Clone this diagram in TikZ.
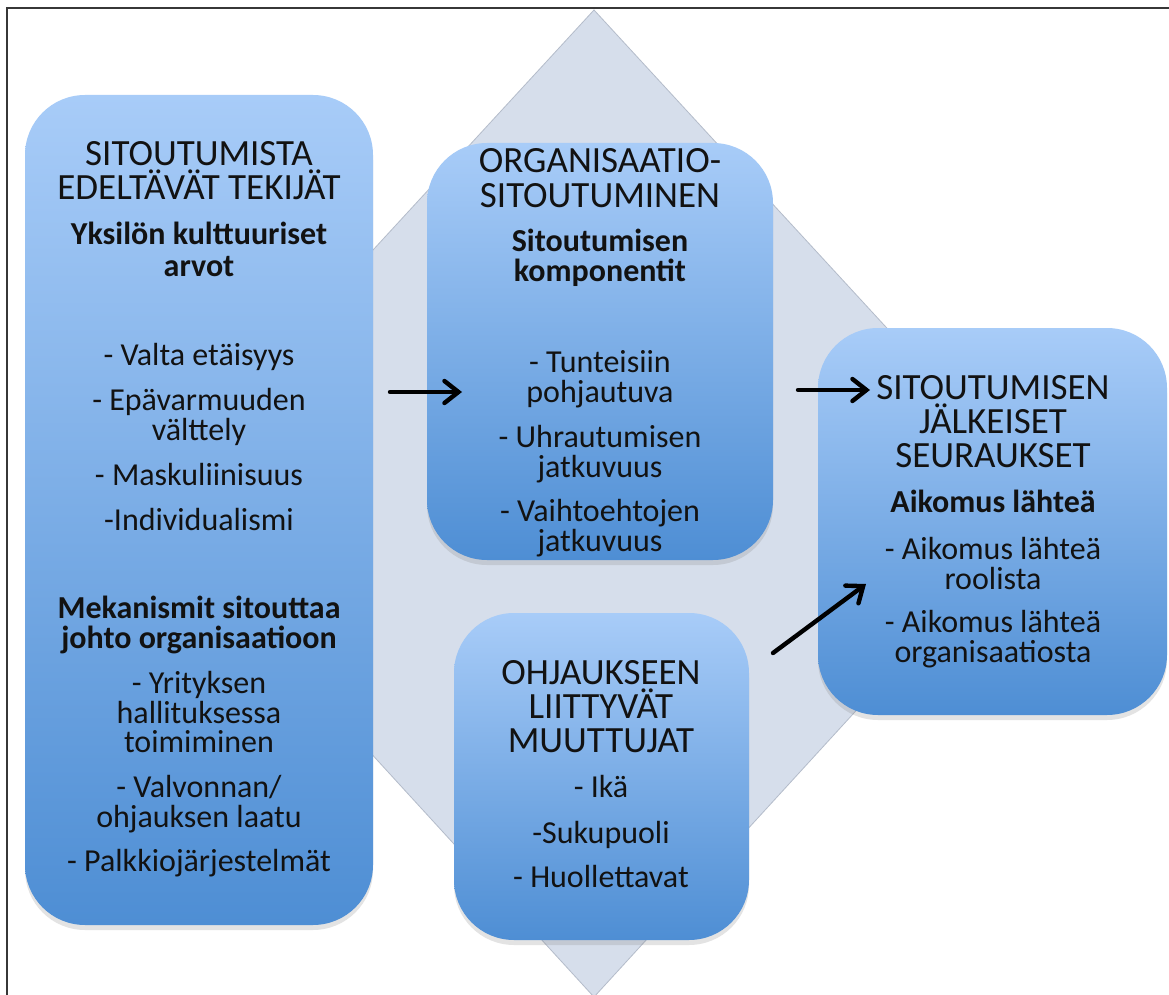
\documentclass[tikz,border=0pt]{standalone}
\usepackage{fontspec}
\setmainfont{Carlito}
\usetikzlibrary{arrows.meta,shadows}
\definecolor{dia}{RGB}{214,222,235}
\definecolor{diaedge}{RGB}{180,188,202}
\definecolor{btop}{RGB}{168,204,248}
\definecolor{bbot}{RGB}{78,142,212}
\definecolor{framec}{RGB}{55,55,55}
\definecolor{txt}{RGB}{18,18,18}
\begin{document}
\begin{tikzpicture}[x=0.5pt,y=-0.5pt,
 box/.style={rectangle, rounded corners=30pt, top color=btop, bottom color=bbot, draw=none,
   drop shadow={opacity=0.22, shadow xshift=0pt, shadow yshift=-2.5pt}, inner sep=0pt},
 ttl/.style={anchor=base, font=\fontsize{18.5}{18.5}\selectfont, text=txt, inner sep=0pt},
 bld/.style={anchor=base, font=\fontsize{16}{16}\selectfont\bfseries, text=txt, inner sep=0pt},
 itm/.style={anchor=base, font=\fontsize{16}{16}\selectfont, text=txt, inner sep=0pt},
 arr/.style={line width=2.2pt, line cap=round, -{Straight Barb[length=7pt,width=11pt,line cap=round]}}
]
\useasboundingbox (0,0) rectangle (1169,995);
\fill[white] (0,0) rectangle (1169,995);
% frame
\draw[framec, line width=1pt] (7,995) -- (7,8) -- (1169,8);
% diamond
\path[fill=dia, draw=diaedge, line width=0.4pt] (594,10) -- (1047,502) -- (594,997) -- (141,502) -- cycle;

% boxes
\node[box, minimum width=174pt, minimum height=415pt] (b1) at (199,510) {};
\node[box, minimum width=173pt, minimum height=208.5pt] (b2) at (600,351.5) {};
\node[box, minimum width=174.5pt, minimum height=193.5pt] (b3) at (992.5,521.5) {};
\node[box, minimum width=147.5pt, minimum height=163.5pt] (b4) at (601.5,776.5) {};

% box 1 text
\node[ttl] (t1a) at (199,166) {SITOUTUMISTA};
\node[ttl] (t1b) at (199,200) {EDELTÄVÄT TEKIJÄT};
\node[bld] (t1c) at (199,245) {Yksilön kulttuuriset};
\node[bld] (t1d) at (199,277) {arvot};
\node[itm] (t1e) at (199,365) {- Valta etäisyys};
\node[itm] (t1f) at (199,410) {- Epävarmuuden};
\node[itm] (t1g) at (199,440) {välttely};
\node[itm] (t1h) at (199,485) {- Maskuliinisuus};
\node[itm] (t1i) at (199,530) {-Individualismi};
\node[bld] (t1j) at (199,618) {Mekanismit sitouttaa};
\node[bld] (t1k) at (199,648) {johto organisaatioon};
\node[itm] (t1l) at (199,693) {- Yrityksen};
\node[itm] (t1m) at (199,723) {hallituksessa};
\node[itm] (t1n) at (199,752) {toimiminen};
\node[itm] (t1o) at (199,797) {- Valvonnan/};
\node[itm] (t1p) at (199,827) {ohjauksen laatu};
\node[itm] (t1q) at (199,871) {- Palkkiojärjestelmät};

% box 2 text
\node[ttl] (t2a) at (600,173) {ORGANISAATIO-};
\node[ttl] (t2b) at (600,207) {SITOUTUMINEN};
\node[bld] (t2c) at (600,252) {Sitoutumisen};
\node[bld] (t2d) at (600,282) {komponentit};
\node[itm] (t2e) at (600,372) {- Tunteisiin};
\node[itm] (t2f) at (600,402) {pohjautuva};
\node[itm] (t2g) at (600,447) {- Uhrautumisen};
\node[itm] (t2h) at (600,477) {jatkuvuus};
\node[itm] (t2i) at (600,521) {- Vaihtoehtojen};
\node[itm] (t2j) at (600,551) {jatkuvuus};

% box 3 text
\node[ttl] (t3a) at (993,399) {SITOUTUMISEN};
\node[ttl] (t3b) at (993,433) {JÄLKEISET};
\node[ttl] (t3c) at (993,467) {SEURAUKSET};
\node[bld] (t3d) at (993,512) {Aikomus lähteä};
\node[itm] (t3e) at (993,559) {- Aikomus lähteä};
\node[itm] (t3f) at (993,589) {roolista};
\node[itm] (t3g) at (993,632) {- Aikomus lähteä};
\node[itm] (t3h) at (993,662) {organisaatiosta};

% box 4 text
\node[ttl] (t4a) at (601,684) {OHJAUKSEEN};
\node[ttl] (t4b) at (601,718) {LIITTYVÄT};
\node[ttl] (t4c) at (601,752) {MUUTTUJAT};
\node[itm] (t4d) at (601,797) {- Ikä};
\node[itm] (t4e) at (601,843) {-Sukupuoli};
\node[itm] (t4f) at (601,887) {- Huollettavat};

% arrows
\coordinate (a1s) at (390,392);
\coordinate (a1e) at (462,392);
\coordinate (a2s) at (798,390);
\coordinate (a2e) at (870,390);
\coordinate (a3s) at (773,653);
\coordinate (a3e) at (866,584);
\draw[arr] (a1s) -- (a1e);
\draw[arr] (a2s) -- (a2e);
\draw[arr] (a3s) -- (a3e);
\end{tikzpicture}
\end{document}
